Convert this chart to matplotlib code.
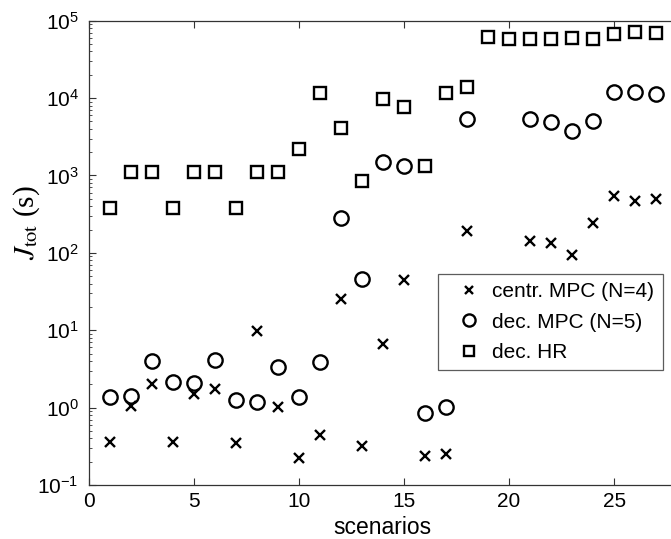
import matplotlib
matplotlib.use("Agg")
import matplotlib.pyplot as plt
import numpy as np

plt.rcParams['font.family'] = ['Liberation Sans', 'DejaVu Sans']

# scenario numbers
x_centr = [1, 2, 3, 4, 5, 6, 7, 8, 9, 10, 11, 12, 13, 14, 15, 16, 17, 18, 21, 22, 23, 24, 25, 26, 27]
y_centr = [0.357, 1.05, 2.02, 0.355, 1.49, 1.73, 0.347, 9.9, 1.03, 0.224, 0.443, 25.4, 0.323, 6.66,
           44.7, 0.238, 0.25, 194, 144, 133, 94, 245, 543, 473, 498]

x_dec = [1, 2, 3, 4, 5, 6, 7, 8, 9, 10, 11, 12, 13, 14, 15, 16, 17, 18, 21, 22, 23, 24, 25, 26, 27]
y_dec = [1.36, 1.43, 4.05, 2.13, 2.1, 4.13, 1.26, 1.19, 3.39, 1.36, 3.93, 280, 45.6, 1515,
         1340, 0.85, 1.03, 5320, 5420, 4860, 3790, 5060, 12100, 12000, 11200]

x_hr = list(range(1, 28))
y_hr = [377, 1120, 1120, 380, 1120, 1120, 377, 1120, 1120, 2180, 11700, 4150, 850, 9650,
        7600, 1327, 11700, 13800, 62100, 57500, 58600, 58600, 59700, 58600, 68000, 70800, 68700]

labels = ['centr. MPC (N=4)', 'dec. MPC (N=5)', 'dec. HR']

W, H = 671, 539
fig = plt.figure(figsize=(W / 100, H / 100), dpi=100)
x0, x1 = 88.5, 88.5 + 28 * 21.03
ytop, ybot = 20.7, 485
ax = fig.add_axes([x0 / W, 1 - ybot / H, (x1 - x0) / W, (ybot - ytop) / H])

ax.plot(x_centr, y_centr, linestyle='none', marker='x', ms=7, mew=1.7, color='black', label=labels[0])
ax.plot(x_dec, y_dec, linestyle='none', marker='o', ms=10.3, mew=1.7, mfc='none', color='black', label=labels[1])
ax.plot(x_hr, y_hr, linestyle='none', marker='s', ms=8, mew=1.7, mfc='none', color='black', label=labels[2])

ax.set_yscale('log')
ax.set_ylim(1e-1, 1e5)
ax.set_xlim(0, 28)
ax.set_xticks([0, 5, 10, 15, 20, 25])
ax.set_yticks([1e-1, 1e0, 1e1, 1e2, 1e3, 1e4, 1e5])

for s in ax.spines.values():
    s.set_color('#333333')
    s.set_linewidth(0.9)

ax.tick_params(axis='both', which='both', direction='in', top=True, right=False, colors='#333333',
               labelcolor='black')
ax.tick_params(axis='x', which='major', length=5, labelsize=15, pad=5)
ax.tick_params(axis='y', which='major', length=5, labelsize=15, pad=7)
ax.tick_params(axis='y', which='minor', length=2.5)

ax.set_xlabel('scenarios', fontsize=16.5)
ax.xaxis.label.set_va('center')
ax.xaxis.set_label_coords(0.5, (ybot - 527) / (ybot - ytop))

ax.set_ylabel(r'$J_{\mathrm{tot}}$ (s)', fontsize=21, family='Liberation Serif')
ax.yaxis.label.set_math_fontfamily('stix')
ax.yaxis.label.set_va('center')
ax.yaxis.set_label_coords((27 - x0) / (x1 - x0), (ybot - 223) / (ybot - ytop))

leg = ax.legend(loc='upper left', bbox_to_anchor=(438 / W, 1 - 274 / H), bbox_transform=fig.transFigure,
                fontsize=15, frameon=True, fancybox=False, borderpad=0.4, labelspacing=0.54,
                handlelength=2.2, handletextpad=0.0, borderaxespad=0, markerscale=0.85)
leg.get_frame().set_edgecolor('#333333')
leg.get_frame().set_linewidth(0.9)

fig.savefig('out.png', dpi=100)
